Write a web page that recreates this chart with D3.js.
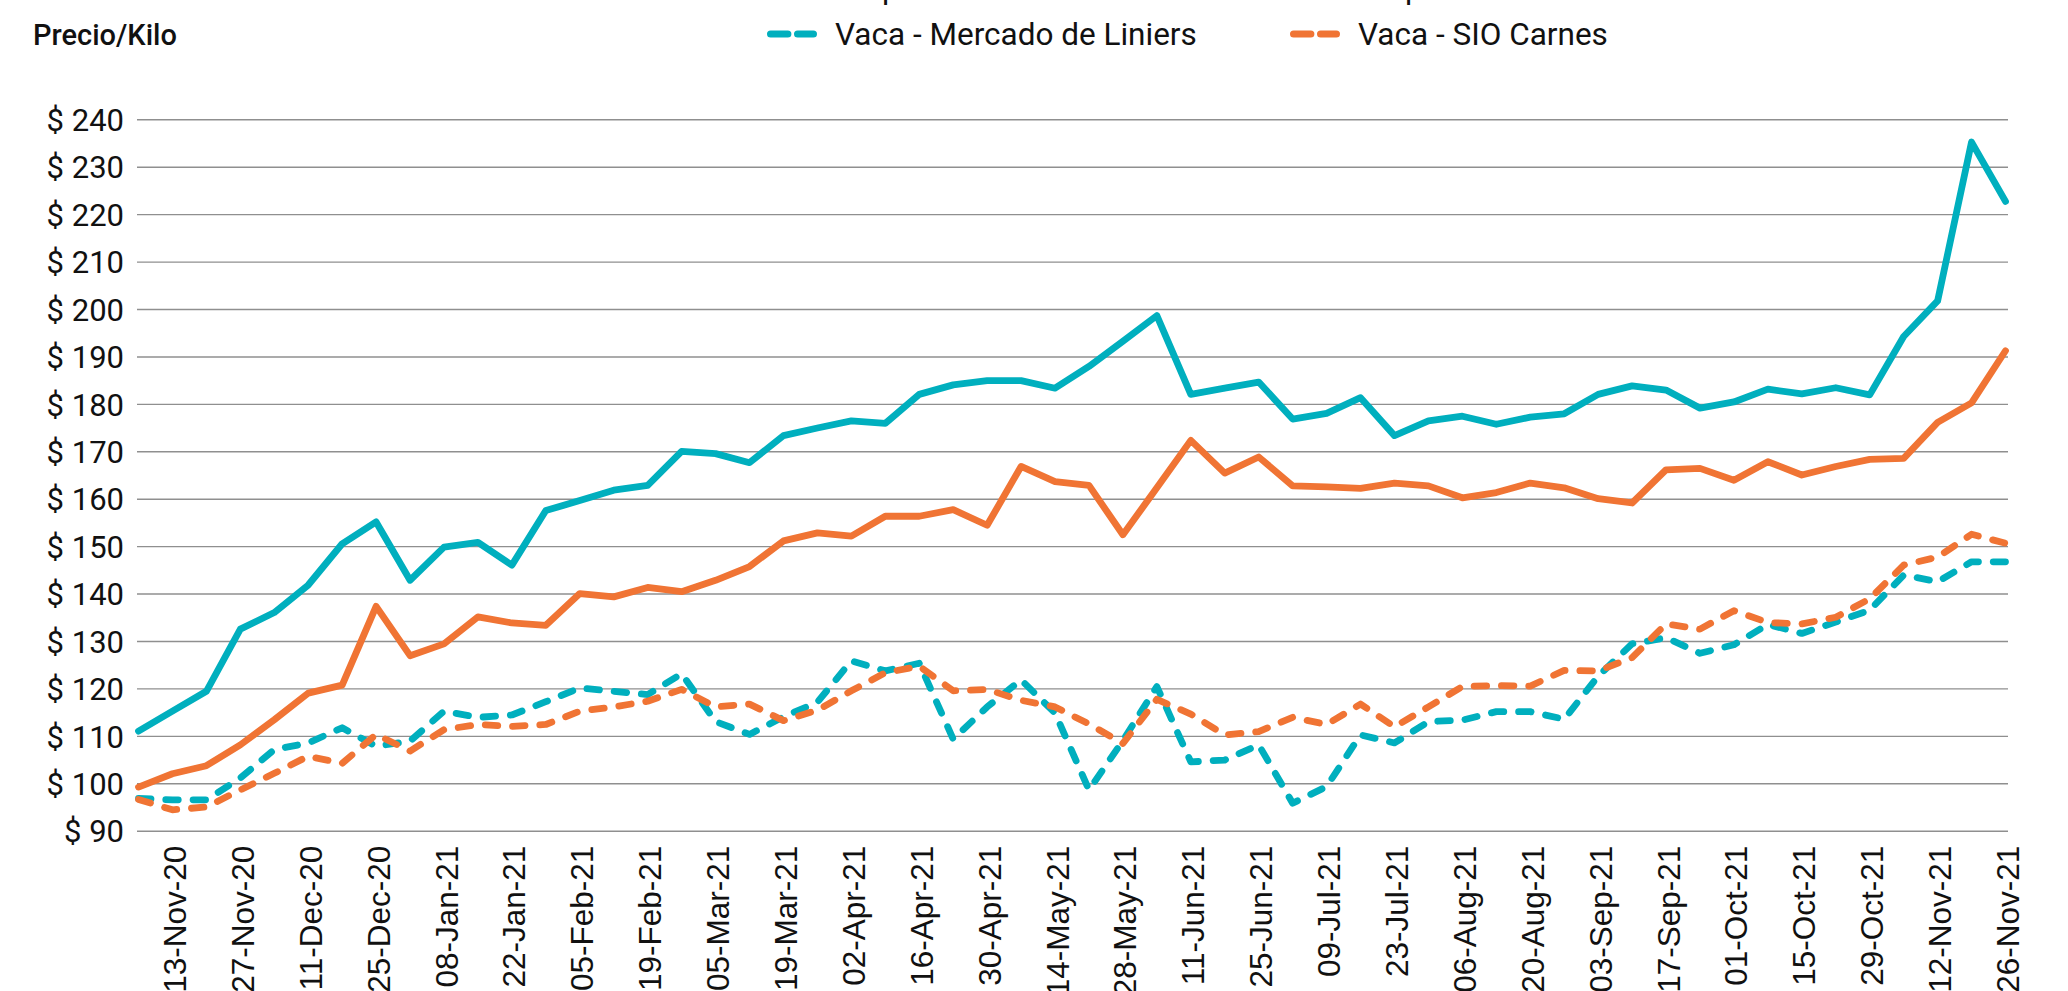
<!DOCTYPE html>
<html>
  <head>
    <title>Precio/Kilo</title>
  <script src="https://d3js.org/d3.v7.min.js"></script>
  <style>
    body { margin: 0; background: #fff; }
  </style>
 </head>
  <body>

<script type="text/javascript">

// weekly dates (06-Nov-20 .. 26-Nov-21)
var weeks = ["06-Nov-20","13-Nov-20","20-Nov-20","27-Nov-20","04-Dec-20","11-Dec-20","18-Dec-20","25-Dec-20",
  "01-Jan-21","08-Jan-21","15-Jan-21","22-Jan-21","29-Jan-21","05-Feb-21","12-Feb-21","19-Feb-21",
  "26-Feb-21","05-Mar-21","12-Mar-21","19-Mar-21","26-Mar-21","02-Apr-21","09-Apr-21","16-Apr-21",
  "23-Apr-21","30-Apr-21","07-May-21","14-May-21","21-May-21","28-May-21","04-Jun-21","11-Jun-21",
  "18-Jun-21","25-Jun-21","02-Jul-21","09-Jul-21","16-Jul-21","23-Jul-21","30-Jul-21","06-Aug-21",
  "13-Aug-21","20-Aug-21","27-Aug-21","03-Sep-21","10-Sep-21","17-Sep-21","24-Sep-21","01-Oct-21",
  "08-Oct-21","15-Oct-21","22-Oct-21","29-Oct-21","05-Nov-21","12-Nov-21","19-Nov-21","26-Nov-21"];

// labels shown on the axis (every second week)
var tickLabels = ["13-Nov-20","27-Nov-20","11-Dec-20","25-Dec-20","08-Jan-21","22-Jan-21","05-Feb-21",
  "19-Feb-21","05-Mar-21","19-Mar-21","02-Apr-21","16-Apr-21","30-Apr-21","14-May-21","28-May-21",
  "11-Jun-21","25-Jun-21","09-Jul-21","23-Jul-21","06-Aug-21","20-Aug-21","03-Sep-21","17-Sep-21",
  "01-Oct-21","15-Oct-21","29-Oct-21","12-Nov-21","26-Nov-21"];

var yTicks = [90,100,110,120,130,140,150,160,170,180,190,200,210,220,230,240];

var vaquillonaLiniers = [111.0,115.2,119.4,132.5,136.0,141.8,150.5,155.1,142.8,149.8,150.8,146.0,157.5,159.6,
  161.8,162.8,170.0,169.5,167.6,173.3,174.9,176.4,175.9,182.0,184.0,184.9,184.9,183.3,187.9,193.2,
  198.6,182.0,183.3,184.6,176.8,178.0,181.3,173.3,176.4,177.4,175.7,177.2,177.9,182.0,183.8,182.9,
  179.1,180.4,183.1,182.1,183.4,181.9,194.2,201.7,235.2,222.7];

var vaquillonaSio = [99.2,102.0,103.7,108.1,113.4,119.0,120.7,137.3,126.9,129.4,135.1,133.8,133.3,140.0,
  139.3,141.3,140.4,142.8,145.7,151.1,152.8,152.1,156.3,156.3,157.7,154.4,166.8,163.6,162.8,152.4,
  162.3,172.3,165.4,168.8,162.7,162.5,162.2,163.3,162.7,160.2,161.3,163.3,162.3,160.0,159.1,166.1,
  166.4,163.9,167.8,165.0,166.8,168.3,168.5,176.1,180.2,191.2];

var vacaLiniers = [96.8,96.5,96.5,101.1,107.1,108.5,111.7,107.8,108.9,115.2,113.9,114.4,117.2,120.1,
  119.4,118.7,123.1,113.0,110.3,114.0,117.1,125.8,123.7,125.3,109.3,116.1,121.8,114.8,98.6,109.0,
  120.4,104.5,104.9,108.1,95.8,99.3,110.2,108.5,113.0,113.3,115.1,115.1,113.5,122.6,129.4,130.7,
  127.4,129.2,133.5,131.6,134.0,136.5,143.9,142.5,146.7,146.7];

var vacaSio = [96.6,94.4,95.0,98.6,102.1,105.7,104.2,110.3,106.8,111.3,112.4,112.0,112.4,115.2,
  116.1,117.3,119.8,116.1,116.7,113.2,115.4,119.5,123.3,124.7,119.5,119.8,117.5,116.1,112.5,108.4,
  117.7,114.6,110.2,110.9,113.9,112.4,116.7,111.9,116.1,120.4,120.6,120.5,123.8,123.7,126.5,133.6,
  132.5,136.4,133.9,133.6,135.0,138.9,146.0,147.7,152.5,150.6];

var teal = "#00afbe";
var orange = "#f07434";

var series = [
  {name: "Vaquillona - Mercado de Liniers", values: vaquillonaLiniers, color: teal, dashed: false},
  {name: "Vaquillona - SIO Carnes", values: vaquillonaSio, color: orange, dashed: false},
  {name: "Vaca - Mercado de Liniers", values: vacaLiniers, color: teal, dashed: true},
  {name: "Vaca - SIO Carnes", values: vacaSio, color: orange, dashed: true}
];

var width = 2068, height = 991;
var plotLeft = 137, plotRight = 2008, plotTop = 119.3, plotBottom = 830.7;

var svg = d3.select("body")
      .append("svg")
      .attr("width", width)
      .attr("height", height)
      .style("display", "block");

var x = d3.scalePoint()
    .domain(weeks)
    .range([138.5, 2005.5]);

var y = d3.scaleLinear()
    .domain([90, 240])
    .range([plotBottom, plotTop]);

// gridlines + y labels
var yAxis = svg.append("g")
    .attr("transform", "translate(" + plotLeft + ",0)")
    .call(d3.axisLeft(y)
            .tickValues(yTicks)
            .tickSize(-(plotRight - plotLeft))
            .tickPadding(13)
            .tickFormat(function(d) { return "$ " + d; }));

yAxis.select(".domain").remove();
yAxis.selectAll("line")
    .attr("stroke", "#8f8f8f")
    .attr("stroke-width", 1.4);
yAxis.selectAll("text")
    .attr("font-family", "Roboto")
    .attr("font-size", 31)
    .attr("fill", "#111")
    .attr("dy", "0.36em");

// x labels
var xAxis = svg.append("g")
    .attr("transform", "translate(0," + plotBottom + ")")
    .call(d3.axisBottom(x)
            .tickValues(tickLabels)
            .tickSize(0));

xAxis.select(".domain").remove();
xAxis.selectAll("text")
    .attr("font-family", "Liberation Sans, Arial")
    .attr("font-size", 31.5)
    .attr("fill", "#111")
    .attr("transform", "rotate(-90)")
    .attr("x", -15)
    .attr("y", 2)
    .attr("dy", "0.35em")
    .style("text-anchor", "end");

// lines
var line = d3.line()
    .x(function(d, i) { return x(weeks[i]); })
    .y(function(d) { return y(d); });

svg.append("g").selectAll("path")
    .data(series)
    .enter().append("path")
    .attr("d", function(d) { return line(d.values); })
    .attr("fill", "none")
    .attr("stroke", function(d) { return d.color; })
    .attr("stroke-width", 6.8)
    .attr("stroke-linejoin", "round")
    .attr("stroke-linecap", "round")
    .attr("stroke-dasharray", function(d) { return d.dashed ? "12.5,14.8" : null; });

// title
svg.append("text")
    .attr("x", 33)
    .attr("y", 45)
    .attr("font-family", "Roboto")
    .attr("font-weight", 500)
    .attr("font-size", 29)
    .attr("fill", "#111")
    .text("Precio/Kilo");

// legend (two rows, first row is cut off by the top edge)
var legendCols = [767, 1290];
var legendRows = [-1.5, 45];

var leg = svg.append("g").selectAll("g")
    .data(series)
    .enter().append("g")
    .attr("transform", function(d, i) {
      return "translate(" + legendCols[i % 2] + "," + legendRows[Math.floor(i / 2)] + ")";
    });

leg.append("line")
    .attr("x1", 3.6)
    .attr("x2", 46.4)
    .attr("y1", -11)
    .attr("y2", -11)
    .attr("stroke", function(d) { return d.color; })
    .attr("stroke-width", 7.2)
    .attr("stroke-linecap", "round")
    .attr("stroke-dasharray", function(d) { return d.dashed ? "17.2,9.8" : null; });

leg.append("text")
    .attr("x", 68)
    .attr("font-family", "Roboto")
    .attr("font-size", 31.5)
    .attr("fill", "#111")
    .text(function(d) { return d.name; });

</script>


</body>
</html>
